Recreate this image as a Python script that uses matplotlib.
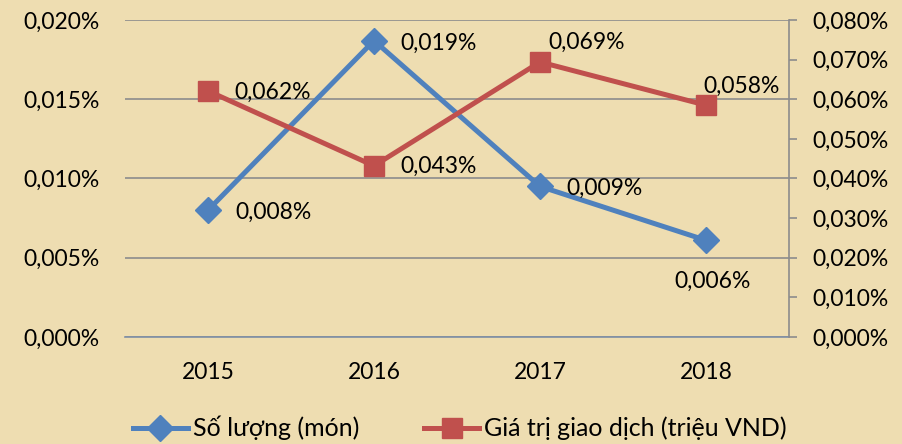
import numpy as np
import matplotlib
matplotlib.use("Agg")
import matplotlib.pyplot as plt
from matplotlib.ticker import FuncFormatter

# Data (values in percent)
years = ["2015", "2016", "2017", "2018"]
so_luong = [0.0080, 0.0187, 0.0095, 0.0061]
gia_tri = [0.0621, 0.0432, 0.0694, 0.0585]
so_luong_labels = ["0,008%", "0,019%", "0,009%", "0,006%"]
gia_tri_labels = ["0,062%", "0,043%", "0,069%", "0,058%"]

plt.rcParams['font.family'] = ['Lato', 'DejaVu Sans']
FS = 16.5
BLUE = '#4F81BD'
RED = '#C0504D'
BG = '#EEDDB1'

fig = plt.figure(figsize=(9.03, 4.44), dpi=100)
fig.patch.set_facecolor(BG)
ax = fig.add_axes([125 / 903, 1 - 337 / 444, 664 / 903, 317 / 444])
ax.set_facecolor('none')
ax2 = ax.twinx()

x = np.arange(len(years))

def pct(v, pos):
    return ("%.3f%%" % v).replace(".", ",")

ax.set_xlim(-0.5, 3.5)
ax.set_ylim(0, 0.02)
ax.set_yticks(np.arange(0, 0.0201, 0.005))
ax.yaxis.set_major_formatter(FuncFormatter(pct))
ax.grid(axis='y', color='#8C8C8C', linewidth=1.2)
ax.set_axisbelow(True)
ax.set_xticks(x)
ax.set_xticklabels(years)

ax2.set_ylim(0, 0.08)
ax2.set_yticks(np.arange(0, 0.0801, 0.01))
ax2.yaxis.set_major_formatter(FuncFormatter(pct))

for a in (ax, ax2):
    for s in ('top', 'left', 'right', 'bottom'):
        a.spines[s].set_visible(False)
ax.spines['bottom'].set_visible(True)
ax.spines['bottom'].set_color('#7F8FA6')
ax.spines['bottom'].set_linewidth(1.2)
ax2.spines['right'].set_visible(True)
ax2.spines['right'].set_color('#8C8C8C')
ax2.spines['right'].set_linewidth(1.2)

ax.tick_params(axis='y', length=0, labelsize=FS, pad=18.5)
ax.tick_params(axis='x', length=0, labelsize=FS, pad=18)
ax2.tick_params(axis='y', length=6, color='#8C8C8C', width=1.2, labelsize=FS, pad=11)

line_b, = ax.plot(x, so_luong, color=BLUE, linewidth=3.6, marker='D',
                  markersize=13, label='Số lượng (món)', zorder=3)
line_r, = ax2.plot(x, gia_tri, color=RED, linewidth=3.6, marker='s',
                   markersize=14.5, label='Giá trị giao dịch (triệu VND)', zorder=3)

# data labels, offsets in pixels
b_off = [(27, -2, 'left'), (26, -3, 'left'), (26, -2, 'left'), (7, -41, 'center')]
r_off = [(26, -1, 'left'), (26, -1, 'left'), (8, 20, 'left'), (-3, 19, 'left')]
for i in range(len(years)):
    dx, dy, ha = b_off[i]
    ax.annotate(so_luong_labels[i], (x[i], so_luong[i]), xytext=(dx, dy),
                textcoords='offset pixels', ha=ha, va='center', fontsize=FS)
    dx, dy, ha = r_off[i]
    ax2.annotate(gia_tri_labels[i], (x[i], gia_tri[i]), xytext=(dx, dy),
                 textcoords='offset pixels', ha=ha, va='center', fontsize=FS)

fig.legend(handles=[line_b, line_r], loc='center', ncol=2, frameon=False,
           fontsize=18, bbox_to_anchor=(460 / 903, 1 - 428 / 444),
           handlelength=2.2, handletextpad=0.2, columnspacing=2.6,
           borderpad=0)

fig.savefig('out.png', dpi=100, facecolor=BG)
